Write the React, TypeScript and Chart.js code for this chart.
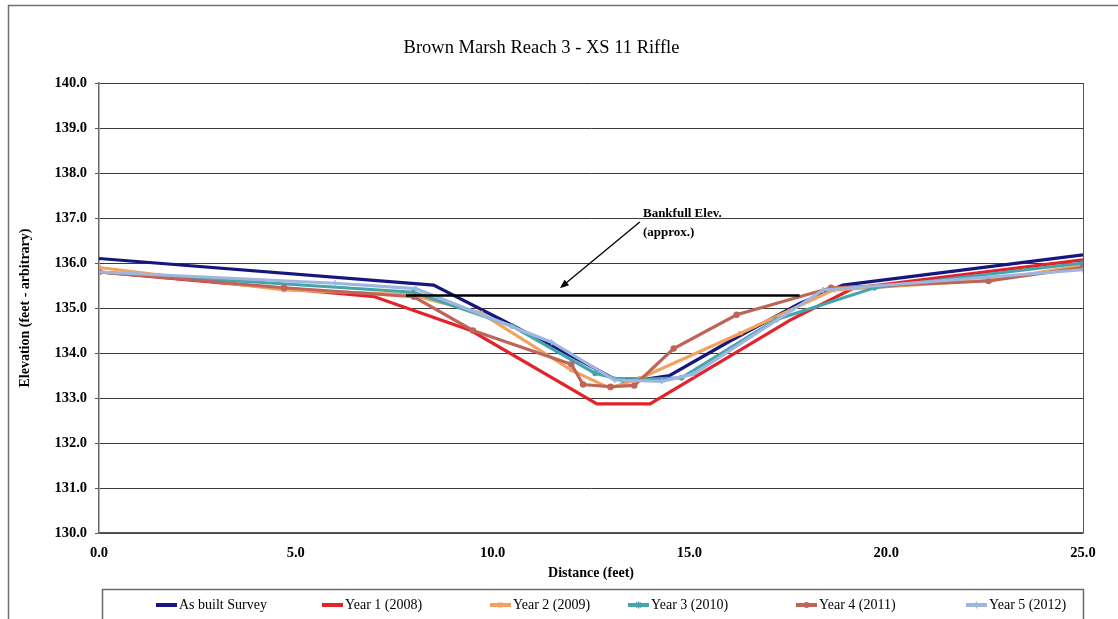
import React, { useEffect, useRef } from "react";
import { Chart, registerables } from "chart.js";

Chart.register(...registerables);

const chartTitle = "Brown Marsh Reach 3 - XS 11 Riffle";
const xAxisTitle = "Distance (feet)";
const yAxisTitle = "Elevation (feet - arbitrary)";
const annotationLines = ["Bankfull Elev.", "(approx.)"];

const xMin = 0;
const xMax = 25;
const xStep = 5;
const yMin = 130;
const yMax = 140;
const yStep = 1;

const seriesNames = [
  "As built Survey",
  "Year 1 (2008)",
  "Year 2 (2009)",
  "Year 3 (2010)",
  "Year 4 (2011)",
  "Year 5 (2012)",
];

const asBuiltX = [0, 8.5, 10.2, 12.3, 13.1, 13.9, 14.5, 16.0, 17.8, 18.9, 25];
const asBuiltY = [136.1, 135.51, 134.75, 133.8, 133.42, 133.42, 133.5, 134.25, 135.1, 135.51, 136.18];

const year1X = [0, 7.0, 9.45, 12.65, 14.0, 17.56, 19.16, 25];
const year1Y = [135.8, 135.25, 134.5, 132.87, 132.87, 134.73, 135.44, 136.07];

const year2X = [0, 4.7, 7.9, 9.7, 12.0, 12.98, 13.75, 16.3, 18.65, 22.7, 25];
const year2Y = [135.9, 135.4, 135.3, 134.89, 133.62, 133.22, 133.44, 134.44, 135.4, 135.62, 135.95];

const year3X = [0, 8.0, 10.5, 12.6, 13.3, 14.8, 17.2, 19.7, 25];
const year3Y = [135.8, 135.35, 134.6, 133.55, 133.4, 133.45, 134.74, 135.45, 136.0];

const year4X = [0, 4.7, 8.0, 9.5, 12.0, 12.3, 13.0, 13.6, 14.6, 16.2, 18.6, 22.6, 25];
const year4Y = [135.8, 135.45, 135.25, 134.5, 133.75, 133.3, 133.25, 133.28, 134.1, 134.85, 135.45, 135.6, 135.9];

const year5X = [0, 6.0, 8.05, 11.5, 13.1, 14.3, 15.1, 18.4, 25];
const year5Y = [135.8, 135.55, 135.43, 134.24, 133.4, 133.37, 133.53, 135.4, 135.85];

const bankfullX = [7.8, 17.8];
const bankfullY = [135.28, 135.28];

const arrowFrom = [13.74, 136.91];
const arrowTo = [11.71, 135.44];
const annotationAt = [13.82, 137.09];

const seriesColors = ["#16167e", "#e3222a", "#f2a25e", "#45a5ad", "#bf6458", "#9fb6de"];
const seriesPointStyles = ["circle", "circle", "rect", "star", "circle", "cross"];
const seriesPointRadius = [0, 0, 2, 3, 2.5, 3];

const FONT = "'Liberation Serif', 'Times New Roman', serif";

function toPoints(xs: number[], ys: number[]) {
  return xs.map((x, i) => ({ x, y: ys[i] }));
}

const seriesX = [asBuiltX, year1X, year2X, year3X, year4X, year5X];
const seriesY = [asBuiltY, year1Y, year2Y, year3Y, year4Y, year5Y];

function drawMarker(ctx: CanvasRenderingContext2D, style: string, x: number, y: number, r: number, color: string) {
  ctx.save();
  ctx.fillStyle = color;
  ctx.strokeStyle = color;
  ctx.lineWidth = 1.5;
  if (style === "circle") {
    ctx.beginPath();
    ctx.arc(x, y, r, 0, Math.PI * 2);
    ctx.fill();
  } else if (style === "rect") {
    ctx.fillRect(x - r, y - r, 2 * r, 2 * r);
  } else if (style === "cross") {
    ctx.beginPath();
    ctx.moveTo(x - r, y);
    ctx.lineTo(x + r, y);
    ctx.moveTo(x, y - r);
    ctx.lineTo(x, y + r);
    ctx.stroke();
  } else if (style === "star") {
    ctx.beginPath();
    for (let k = 0; k < 4; k++) {
      const a = (k * Math.PI) / 4;
      ctx.moveTo(x - r * Math.cos(a), y - r * Math.sin(a));
      ctx.lineTo(x + r * Math.cos(a), y + r * Math.sin(a));
    }
    ctx.stroke();
  }
  ctx.restore();
}

const decorPlugin = {
  id: "decor",
  beforeDraw(chart: any) {
    const ctx = chart.ctx;
    ctx.save();
    ctx.fillStyle = "#ffffff";
    ctx.fillRect(0, 0, chart.width, chart.height);
    ctx.strokeStyle = "#707070";
    ctx.lineWidth = 1.5;
    ctx.strokeRect(8.5, 5.5, chart.width + 40, chart.height + 40);
    ctx.restore();
  },
  afterDraw(chart: any) {
    const ctx = chart.ctx;
    const a = chart.chartArea;
    const xs = chart.scales.x;
    const ys = chart.scales.y;
    ctx.save();
    // right plot border
    ctx.strokeStyle = "#555555";
    ctx.lineWidth = 1;
    ctx.beginPath();
    ctx.moveTo(Math.round(a.right) + 0.5, a.top);
    ctx.lineTo(Math.round(a.right) + 0.5, a.bottom);
    ctx.stroke();

    // annotation arrow
    const x1 = xs.getPixelForValue(arrowFrom[0]);
    const y1 = ys.getPixelForValue(arrowFrom[1]);
    const x2 = xs.getPixelForValue(arrowTo[0]);
    const y2 = ys.getPixelForValue(arrowTo[1]);
    const ang = Math.atan2(y2 - y1, x2 - x1);
    ctx.strokeStyle = "#000";
    ctx.fillStyle = "#000";
    ctx.lineWidth = 1.3;
    ctx.beginPath();
    ctx.moveTo(x1, y1);
    ctx.lineTo(x2 - 6 * Math.cos(ang), y2 - 6 * Math.sin(ang));
    ctx.stroke();
    ctx.beginPath();
    ctx.moveTo(x2, y2);
    ctx.lineTo(x2 - 9 * Math.cos(ang) + 3.5 * Math.sin(ang), y2 - 9 * Math.sin(ang) - 3.5 * Math.cos(ang));
    ctx.lineTo(x2 - 9 * Math.cos(ang) - 3.5 * Math.sin(ang), y2 - 9 * Math.sin(ang) + 3.5 * Math.cos(ang));
    ctx.closePath();
    ctx.fill();

    // annotation text
    const tx = xs.getPixelForValue(annotationAt[0]);
    const ty = ys.getPixelForValue(annotationAt[1]);
    ctx.font = `bold 13px ${FONT}`;
    ctx.textAlign = "left";
    ctx.textBaseline = "middle";
    annotationLines.forEach((t, i) => ctx.fillText(t, tx, ty + i * 19));

    // legend frame
    ctx.strokeStyle = "#6a6a6a";
    ctx.lineWidth = 1.5;
    ctx.strokeRect(102.5, 589.5, 981, 60);

    // legend items
    const starts = [156, 322, 490, 628, 796, 966];
    const ly = 605;
    ctx.font = `14px ${FONT}`;
    seriesNames.forEach((name, i) => {
      const lx = starts[i];
      ctx.strokeStyle = seriesColors[i];
      ctx.lineWidth = 4;
      ctx.beginPath();
      ctx.moveTo(lx, ly);
      ctx.lineTo(lx + 21, ly);
      ctx.stroke();
      if (seriesPointRadius[i] > 0) {
        drawMarker(ctx, seriesPointStyles[i], lx + 10.5, ly, seriesPointRadius[i] + 0.5, seriesColors[i]);
      }
      ctx.fillStyle = "#000";
      ctx.textAlign = "left";
      ctx.textBaseline = "middle";
      ctx.fillText(name, lx + 23, ly);
    });
    ctx.restore();
  },
};

export default function App() {
  const canvasRef = useRef<HTMLCanvasElement | null>(null);

  useEffect(() => {
    document.body.style.margin = "0";
    const canvas = canvasRef.current;
    if (!canvas) return;

    const datasets: any[] = seriesNames.map((name, i) => ({
      label: name,
      data: toPoints(seriesX[i], seriesY[i]),
      borderColor: seriesColors[i],
      backgroundColor: seriesColors[i],
      borderWidth: 3.2,
      pointRadius: seriesPointRadius[i],
      pointStyle: seriesPointStyles[i],
      pointBorderWidth: 1.5,
      tension: 0,
      fill: false,
      order: seriesNames.length - i,
    }));
    datasets.push({
      label: "Bankfull",
      data: toPoints(bankfullX, bankfullY),
      borderColor: "#000000",
      backgroundColor: "#000000",
      borderWidth: 2.5,
      pointRadius: 0,
      fill: false,
      order: 0,
    });

    const chart = new Chart(canvas, {
      type: "line",
      data: { datasets },
      plugins: [decorPlugin],
      options: {
        animation: false,
        responsive: false,
        devicePixelRatio: 1,
        layout: { padding: { left: 0, top: 20, right: 35, bottom: 36 } },
        plugins: {
          legend: { display: false },
          tooltip: { enabled: false },
          title: {
            display: true,
            text: chartTitle,
            color: "#000",
            font: { family: FONT, size: 18.5, weight: "normal" },
            padding: { top: 17, bottom: 23.8 },
          },
        },
        scales: {
          x: {
            type: "linear",
            min: xMin,
            max: xMax,
            afterFit(scale: any) {
              scale.height = 50;
            },
            afterBuildTicks(scale: any) {
              const t = [];
              for (let v = xMin; v <= xMax; v += xStep) t.push({ value: v });
              scale.ticks = t;
            },
            ticks: {
              color: "#000",
              font: { family: FONT, size: 14.5, weight: "bold" },
              padding: 12,
              maxRotation: 0,
              callback: (v: any) => Number(v).toFixed(1),
            },
            grid: { drawOnChartArea: false, drawTicks: false },
            border: { display: true, color: "#555555", width: 1.5 },
            title: {
              display: true,
              text: xAxisTitle,
              color: "#000",
              font: { family: FONT, size: 14, weight: "bold" },
              padding: { top: 0, bottom: 1.6 },
            },
          },
          y: {
            type: "linear",
            min: yMin,
            max: yMax,
            afterFit(scale: any) {
              scale.width = 99;
            },
            ticks: {
              stepSize: yStep,
              color: "#000",
              font: { family: FONT, size: 14.5, weight: "bold" },
              padding: 8,
              callback: (v: any) => Number(v).toFixed(1),
            },
            grid: { color: "#3c3c3c", lineWidth: 1, tickLength: 4, tickColor: "#555555" },
            border: { display: true, color: "#666666", width: 1.5 },
            title: {
              display: true,
              text: yAxisTitle,
              color: "#000",
              font: { family: FONT, size: 14, weight: "bold" },
              padding: { top: 16.6, bottom: 0 },
            },
          },
        },
      } as any,
    });

    return () => chart.destroy();
  }, []);

  return (
    <div style={{ width: 1118, height: 619, overflow: "hidden" }}>
      <canvas ref={canvasRef} width={1118} height={619} style={{ display: "block" }} />
    </div>
  );
}
